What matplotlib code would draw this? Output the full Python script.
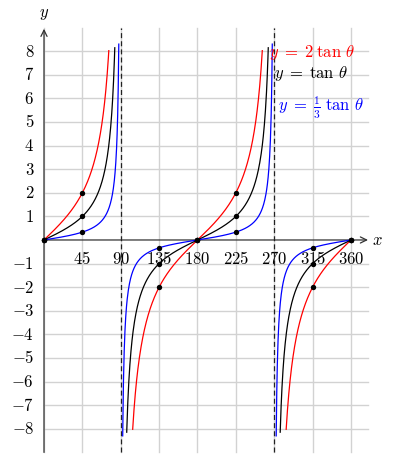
import numpy as np
import matplotlib
matplotlib.use("Agg")
import matplotlib.pyplot as plt

plt.rcParams["mathtext.fontset"] = "cm"
plt.rcParams["font.family"] = "serif"
plt.rcParams["font.serif"] = ["DejaVu Serif"]

# y = k * tan(theta)
coefs = [2.0, 1.0, 1.0 / 3.0]
colors = ["red", "black", "blue"]
labels = [r"$y\;=\;2\;\tan\,\theta$", r"$y\;=\;\tan\,\theta$",
          r"$y\;=\;\frac{1}{3}\;\tan\,\theta$"]
# how close each branch gets to the asymptote (degrees from 0 / 180)
branch_end = [76.0, 83.0, 87.7]
label_pos = [(264, 8.0), (270, 7.1), (275, 5.65)]

marked = [0, 45, 135, 180, 225, 315, 360]
asymptotes = [90, 270]
xticks = [45, 90, 135, 180, 225, 270, 315, 360]
yticks = [-8, -7, -6, -5, -4, -3, -2, -1, 1, 2, 3, 4, 5, 6, 7, 8]

xmax, ymin, ymax = 380, -9, 9

fig = plt.figure(figsize=(3.96, 4.56), dpi=100)
ax = fig.add_axes([0, 0, 1, 1])
ax.set_xlim(-51.6, 412.8)
ax.set_ylim(-9.11, 10.21)
ax.axis("off")

# grid
for v in [0] + xticks:
    ax.plot([v, v], [ymin, ymax], color="#d2d2d2", lw=1.0, zorder=0)
for v in yticks:
    ax.plot([0, xmax], [v, v], color="#d2d2d2", lw=1.0, zorder=0)

# axes
ax.annotate("", xy=(xmax, 0), xytext=(0, 0),
            arrowprops=dict(arrowstyle="->,head_length=0.45,head_width=0.22",
                            lw=0.9, color="#333333", shrinkA=0, shrinkB=0), zorder=2)
ax.annotate("", xy=(0, 8.95), xytext=(0, ymin),
            arrowprops=dict(arrowstyle="->,head_length=0.45,head_width=0.22",
                            lw=0.9, color="#333333", shrinkA=0, shrinkB=0), zorder=2)
ax.text(xmax + 5, 0, "$x$", fontsize=12, ha="left", va="center")
ax.text(0, 9.65, "$y$", fontsize=12, ha="center", va="center")

for v in xticks:
    ax.text(v, -0.8, "$%d$" % v, fontsize=12, ha="center", va="center")
for v in yticks:
    s = "$%d$" % v if v > 0 else "$-%d$" % abs(v)
    ax.text(-11.5, v, s, fontsize=12, ha="right", va="center")

# asymptotes
for a in asymptotes:
    ax.plot([a, a], [ymin, ymax], color="#222222", lw=0.9, ls=(0, (4, 2.5)), zorder=3)

# curves
for k, c, e in zip(coefs, colors, branch_end):
    for lo, hi in [(0, e), (180 - e, 180 + e), (360 - e, 360)]:
        t = np.linspace(lo, hi, 400)
        ax.plot(t, k * np.tan(np.radians(t)), color=c, lw=0.9, zorder=4)

for k in coefs:
    ax.scatter(marked, [k * np.tan(np.radians(m)) for m in marked],
               s=15, color="black", zorder=5, linewidths=0)

for lab, c, (lx, ly) in zip(labels, colors, label_pos):
    ax.text(lx, ly, lab, color=c, fontsize=12, ha="left", va="center", zorder=6)

fig.savefig("out.png", dpi=100)
